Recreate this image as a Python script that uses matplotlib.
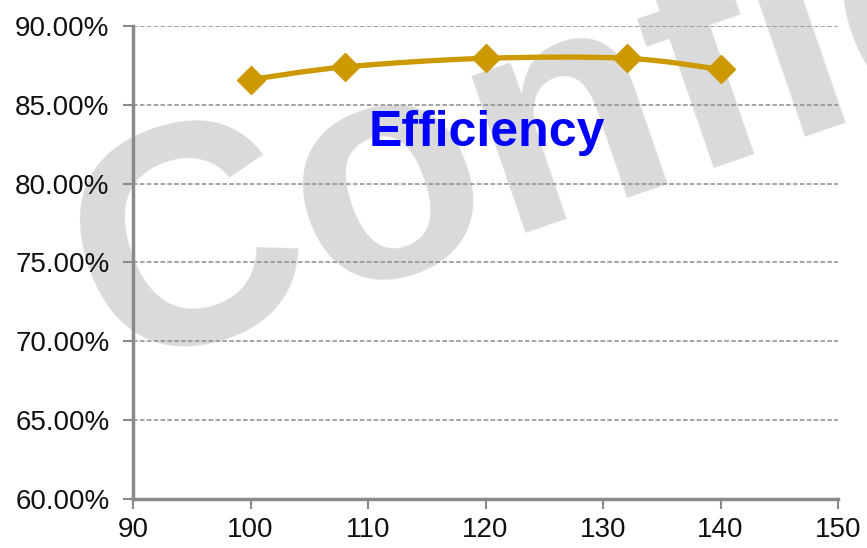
import matplotlib
matplotlib.use("Agg")
import matplotlib.pyplot as plt
from matplotlib.path import Path
from matplotlib.patches import PathPatch
from matplotlib.ticker import FuncFormatter
import numpy as np

# data
voltage = [100, 108, 120, 132, 140]
efficiency = [86.6, 87.4, 87.95, 87.95, 87.25]
x_ticks = [90, 100, 110, 120, 130, 140, 150]
y_ticks = [60, 65, 70, 75, 80, 85, 90]
series_label = "Efficiency"
watermark = "Confidential"

plt.rcParams['font.family'] = ['Liberation Sans', 'DejaVu Sans']

fig = plt.figure(figsize=(8.67, 5.48), dpi=100)
ax = fig.add_axes([0.1534, 0.0894, 0.9666 - 0.1534, 0.9526 - 0.0894])
ax.patch.set_alpha(0)

# watermark behind everything
fig.text(0.128, 0.323, watermark, fontsize=225, fontweight='bold', color='#dadada',
         rotation=19, rotation_mode='anchor', ha='left', va='baseline', zorder=-5)

ax.set_xlim(90, 150)
ax.set_ylim(60, 90)
ax.set_xticks(x_ticks)
ax.set_yticks(y_ticks)
ax.yaxis.set_major_formatter(FuncFormatter(lambda v, p: f"{v:.2f}%"))

ax.grid(axis='y', color='#8c8c8c', linestyle=(0, (3, 1.5)), linewidth=1.1, zorder=1)
ax.set_axisbelow(True)

for s in ['top', 'right']:
    ax.spines[s].set_visible(False)
for s in ['left', 'bottom']:
    ax.spines[s].set_color('#8a8a8a')
    ax.spines[s].set_linewidth(2.5)

ax.tick_params(axis='both', direction='out', length=7, width=1.5, color='#8a8a8a',
               labelsize=20, labelcolor='#111111')
ax.tick_params(axis='y', pad=10)
ax.tick_params(axis='x', pad=6)

# smooth line (Catmull-Rom -> cubic Bezier) through data points
xs = np.array(voltage, dtype=float)
ys = np.array(efficiency, dtype=float)
n = len(xs)
verts = [(xs[0], ys[0])]
codes = [Path.MOVETO]
for i in range(n - 1):
    p0 = np.array([xs[max(i - 1, 0)], ys[max(i - 1, 0)]])
    p1 = np.array([xs[i], ys[i]])
    p2 = np.array([xs[i + 1], ys[i + 1]])
    p3 = np.array([xs[min(i + 2, n - 1)], ys[min(i + 2, n - 1)]])
    c1 = p1 + (p2 - p0) / 6.0
    c2 = p2 - (p3 - p1) / 6.0
    verts += [tuple(c1), tuple(c2), tuple(p2)]
    codes += [Path.CURVE4] * 3
patch = PathPatch(Path(verts, codes), facecolor='none', edgecolor='#CC9900',
                  linewidth=3.8, zorder=3, capstyle='round', joinstyle='round')
ax.add_patch(patch)
ax.plot(voltage, efficiency, linestyle='none', marker='D', markersize=14,
        color='#CC9900', zorder=4, clip_on=False)

ax.text(120.1, 83.2, series_label, fontsize=36, fontweight='bold', color='#0000FF',
        ha='center', va='center', zorder=5)

fig.savefig("out.png", dpi=100)
